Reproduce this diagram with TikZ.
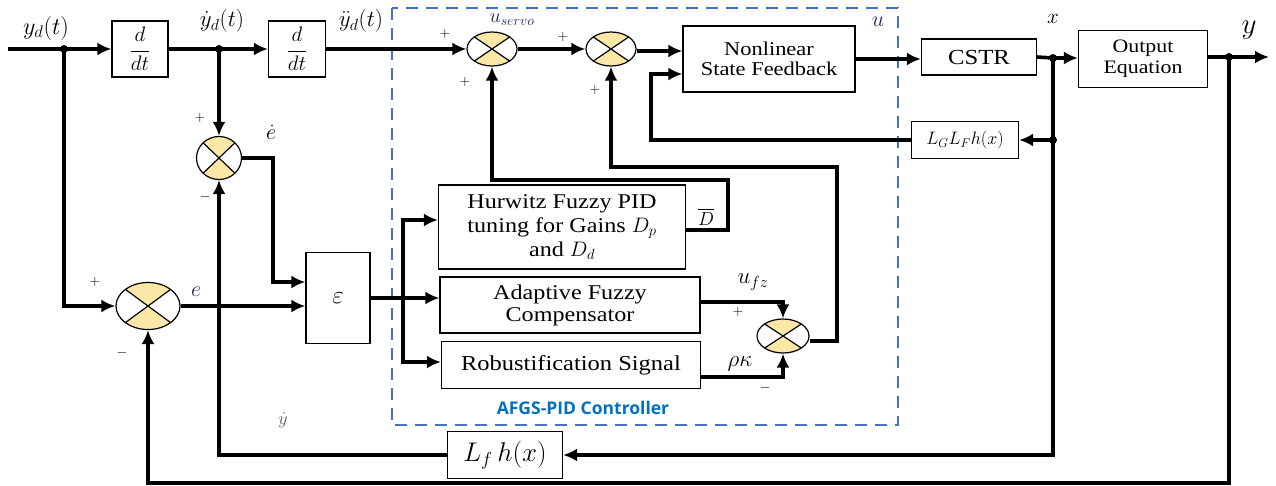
\RequirePackage{fix-cm}
\documentclass[tikz,border=0pt]{standalone}
\usepackage{amsmath,amssymb}
\usepackage{fontspec}
\setmainfont{Liberation Serif}[FakeStretch=1.15]
\newfontfamily\ctrlfont{Open Sans}
\usetikzlibrary{arrows.meta,calc,shapes.geometric}
\definecolor{sumfill}{RGB}{252,232,166}
\definecolor{afgsblue}{RGB}{68,114,196}
\definecolor{afgstext}{RGB}{0,112,192}
\definecolor{lblnavy}{RGB}{30,38,95}

\begin{document}
\begin{tikzpicture}[x=1pt,y=-1pt,
		blk/.style={draw,line width=1.2pt,inner sep=0pt,align=center,font=\fontsize{21}{22}\selectfont},
		sumnode/.style={ellipse,draw,line width=1.2pt,inner sep=0pt,minimum width=50pt,minimum height=34pt,
			path picture={
				\fill[sumfill] (path picture bounding box.north west) -- (path picture bounding box.center) -- (path picture bounding box.north east) -- cycle;
				\fill[sumfill] (path picture bounding box.south west) -- (path picture bounding box.center) -- (path picture bounding box.south east) -- cycle;
				\draw[line width=1.2pt] (path picture bounding box.north west) -- (path picture bounding box.south east)
					(path picture bounding box.north east) -- (path picture bounding box.south west);}},
		sig/.style={line width=3.6pt},
		arr/.style={sig,-{Latex[length=14pt,width=13pt]}},
		lbl/.style={inner sep=0pt,font=\fontsize{22}{24}\selectfont},
		sgn/.style={inner sep=0pt,font=\fontsize{14}{14}\selectfont},
		junc/.style={circle,fill,inner sep=0pt,minimum size=8pt}]
		\useasboundingbox (0,0) rectangle (1276,485);
		\draw[afgsblue,line width=2.6pt,dash pattern=on 12pt off 8pt] (392,8) rectangle (898,425);
		\node[afgstext,inner sep=0pt,font=\ctrlfont\bfseries\fontsize{17.5}{18}\selectfont] (ctrl) at (583,408) {AFGS-PID Controller};

		\node[blk,minimum width=56pt,minimum height=56pt,font=\fontsize{21}{22}\selectfont] (ddt1) at (140,49) {$\dfrac{d}{dt}$};
		\node[blk,minimum width=57pt,minimum height=56pt,font=\fontsize{21}{22}\selectfont] (ddt2) at (297,49) {$\dfrac{d}{dt}$};
		\node[sumnode] (s1) at (492,49) {};
		\node[sumnode] (s2) at (611,49) {};
		\node[blk,minimum width=172pt,minimum height=66pt,font=\fontsize{19.5}{20}\selectfont] (nsf) at (769,59) {Nonlinear\\State Feedback};
		\node[blk,minimum width=115pt,minimum height=36pt,font=\fontsize{21.5}{22}\selectfont] (cstr) at (979,57) {CSTR};
		\node[blk,minimum width=129pt,minimum height=57pt,font=\fontsize{19}{21}\selectfont] (oe) at (1143,59) {Output\\Equation};
		\node[blk,minimum width=107pt,minimum height=37pt,font=\fontsize{18}{18}\selectfont] (lglf) at (965,140) {$L_G L_F h(x)$};
		\node[blk,minimum width=115pt,minimum height=47pt,font=\fontsize{27}{27}\selectfont] (lfh) at (505,455) {$L_f\, h(x)$};
		\node[sumnode,minimum width=45pt,minimum height=43pt] (sde) at (219,158) {};
		\node[sumnode,minimum width=64pt,minimum height=47pt] (se) at (148,306) {};
		\node[blk,minimum width=64pt,minimum height=91pt,font=\fontsize{25}{25}\selectfont] (eps) at (338,298) {$\varepsilon$};
		\node[blk,minimum width=247pt,minimum height=84pt,font=\fontsize{21}{24}\selectfont] (hur) at (562,227) {Hurwitz Fuzzy PID\\tuning for Gains $D_p$\\and $D_d$};
		\node[blk,minimum width=260pt,minimum height=56pt] (afc) at (570,305) {Adaptive Fuzzy\\Compensator};
		\node[blk,minimum width=259pt,minimum height=47pt,font=\fontsize{21.3}{22}\selectfont] (rob) at (571,365) {Robustification Signal};
		\node[sumnode,minimum width=52pt] (s3) at (783,336) {};

		\coordinate (in) at (8,49);
		\coordinate (j1) at (64,49);
		\coordinate (j2) at (219,49);
		\coordinate (j3) at (1053,58);
		\coordinate (j4) at (1229,57);
		\coordinate (j5) at (1053,140);
		\coordinate (out) at (1269,57);
		\coordinate (b1) at (403,220);
		\coordinate (b3) at (403,362);
		\coordinate (ein) at (273,282);
		\coordinate (nsfin) at (651,74);
		\coordinate (ybot) at (148,483);

		\draw[arr] (in) -- (ddt1.west);
		\draw[arr] (ddt1.east) -- (ddt2.west);
		\draw[arr] (ddt2.east) -- (s1.west);
		\draw[arr] (s1.east) -- (s2.west);
		\draw[arr] ($(s2.east)+(0,2)$) -- ($(s2.east -| nsf.west)+(0,2)$);
		\draw[arr] (nsf.east) -- (nsf.east -| cstr.west);
		\draw[arr] (j3) -- (j3 -| oe.west);
		\draw[sig] (cstr.east) -- (j3);
		\draw[arr] ($(oe.east)+(0,-2)$) -- (out);
		\draw[arr] (j1) |- (se.west);
		\draw[arr] (j2) -- (sde.north);
		\draw[arr] (sde.east) -| (ein) -- (ein -| eps.west);
		\draw[arr] (se.east) -- (se.east -| eps.west);
		\draw[sig] (eps.east) -- (eps.east -| b1);
		\draw[{Latex[length=14pt,width=13pt]}-{Latex[length=14pt,width=13pt]},sig] (b1 -| hur.west) -- (b1) -- (b3) -- (b3 -| rob.west);
		\draw[arr] (eps.east -| b1) -- (eps.east -| afc.west);
		\draw[arr] ($(hur.east)+(0,3)$) -| (728,180) -| (s1.south);
		\draw[arr] ($(afc.east)+(0,-3)$) -| (s3.north);
		\draw[arr] ($(rob.east)+(0,12)$) -| (s3.south);
		\draw[arr] ($(s3.east)+(0,5)$) -| (837,167) -| (s2.south);
		\draw[arr] (j5) -- (lglf.east);
		\draw[arr] (lglf.west) -| (nsfin) -- (nsfin -| nsf.west);
		\draw[arr] (j3) |- (lfh.east);
		\draw[arr] (lfh.west) -| (sde.south);
		\draw[arr] (j4) |- (ybot) -- (se.south);
		\foreach \j in {j1,j2,j3,j4,j5}
			\node[junc] at (\j) {};

		\node[lbl,font=\fontsize{24}{24}\selectfont] (lyd) at (46,28) {$y_d(t)$};
		\node[lbl,font=\fontsize{23}{24}\selectfont] (lydd) at (222,21) {$\dot y_d(t)$};
		\node[lbl,font=\fontsize{23}{24}\selectfont] (lyddd) at (361,21) {$\ddot y_d(t)$};
		\node[lbl,lblnavy,font=\fontsize{20}{24}\selectfont] (lus) at (512,20) {$u_{servo}$};
		\node[lbl,lblnavy] (lu) at (878,22) {$u$};
		\node[lbl,font=\fontsize{21}{24}\selectfont] (lx) at (1053,19) {$x$};
		\node[lbl,font=\fontsize{29}{29}\selectfont] (ly) at (1249,30) {$y$};
		\node[lbl] (led) at (271,132) {$\dot e$};
		\node[lbl,lblnavy] (le) at (196,292) {$e$};
		\node[lbl,font=\fontsize{19}{24}\selectfont] (lDb) at (706,217) {$\overline{D}$};
		\node[lbl,font=\fontsize{23}{24}\selectfont] (lufz) at (753,282) {$u_{fz}$};
		\node[lbl,font=\fontsize{23}{24}\selectfont] (lrk) at (740,364) {$\rho\kappa$};
		\node[lbl,gray!70!black,font=\fontsize{18}{24}\selectfont] (lyd2) at (283,420) {$\dot y$};
		\foreach \p in {(445,34),(465,82),(563,37),(595,90),(200,118),(95,282),(738,312)}
			\node[sgn] at \p {$+$};
		\foreach \p in {(205,197),(122,353),(765,388)}
			\node[sgn] at \p {$-$};
	\end{tikzpicture}
\end{document}
